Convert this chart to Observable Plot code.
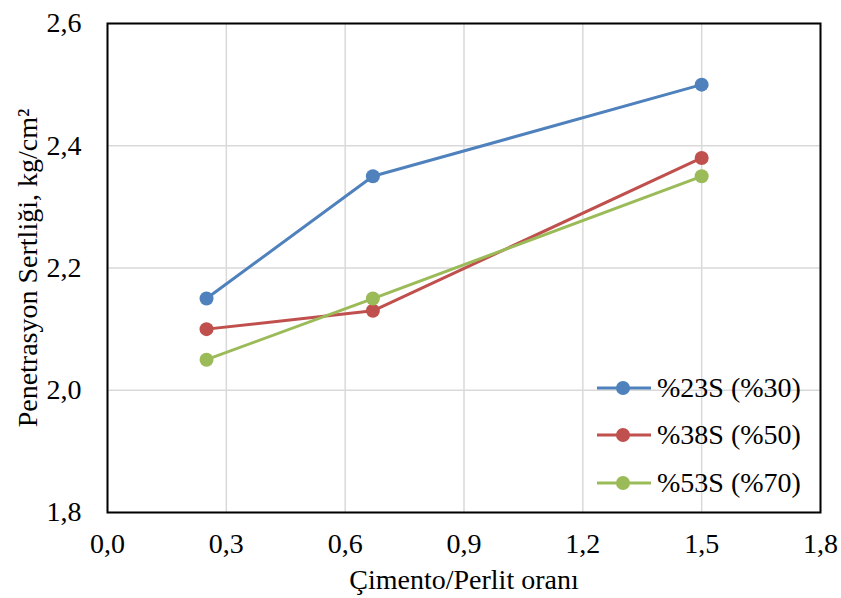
<!DOCTYPE html>
<html><head><meta charset="utf-8">
<script src="https://cdn.jsdelivr.net/npm/d3@7"></script>
<script src="https://cdn.jsdelivr.net/npm/@observablehq/plot@0.6"></script>
<style>
#chart svg text { font-family: "Liberation Serif", "Times New Roman", serif !important; font-size: 28px !important; fill: #000; }
</style>
</head><body style="margin:0;background:#fff;">
<div id="wrap" style="position:relative;width:841px;height:598px;"><div id="chart"></div><div id="legend" style="position:absolute;left:597px;top:364px;"></div></div>
<script>
const xValues = [0.25, 0.67, 1.5];
const seriesNames = ["%23S (%30)", "%38S (%50)", "%53S (%70)"];
const seriesColors = ["#4F81BD", "#C0504D", "#9BBB59"];
const s23 = [2.15, 2.35, 2.50];
const s38 = [2.10, 2.13, 2.38];
const s53 = [2.05, 2.15, 2.35];
const xTicks = [0, 0.3, 0.6, 0.9, 1.2, 1.5, 1.8];
const yTicks = [1.8, 2.0, 2.2, 2.4, 2.6];
const xLabel = "Çimento/Perlit oranı";
const yLabel = "Penetrasyon Sertliği, kg/cm²";

const FONT = "Liberation Serif";
const FS = 28;
const allSeries = [s23, s38, s53];
const data = [];
allSeries.forEach((vals, i) => vals.forEach((v, j) => data.push({x: xValues[j], y: v, s: seriesNames[i]})));
const fmt = d => d.toFixed(1).replace(".", ",");

const chart = Plot.plot({
  width: 841, height: 598,
  marginLeft: 107, marginRight: 21, marginTop: 23, marginBottom: 86,
  style: {fontFamily: FONT, color: "#000", background: "#fff"},
  x: {domain: [0, 1.8]},
  y: {domain: [1.8, 2.6]},
  color: {domain: seriesNames, range: seriesColors},
  marks: [
    Plot.gridX(xTicks, {stroke: "#d9d9d9", strokeOpacity: 1, strokeWidth: 1.5}),
    Plot.gridY(yTicks, {stroke: "#d9d9d9", strokeOpacity: 1, strokeWidth: 1.5}),
    Plot.axisX(xTicks, {tickFormat: fmt, tickSize: 0, tickPadding: 21, fontSize: FS, fontFamily: FONT, label: null}),
    Plot.axisY(yTicks, {tickFormat: fmt, tickSize: 0, tickPadding: 26, fontSize: FS, fontFamily: FONT, label: null}),
    Plot.text([xLabel], {text: d => d, frameAnchor: "bottom", textAnchor: "middle", lineAnchor: "middle", dy: 68, dx: 0, fontSize: FS, fontFamily: FONT, fill: "#000"}),
    Plot.text([yLabel], {text: d => d, frameAnchor: "left", textAnchor: "middle", lineAnchor: "middle", rotate: -90, dx: -79, dy: 0, fontSize: FS, fontFamily: FONT, fill: "#000"}),
    Plot.frame({stroke: "#000", strokeWidth: 2}),
    Plot.line(data, {x: "x", y: "y", z: "s", stroke: "s", strokeWidth: 3}),
    Plot.dot(data, {x: "x", y: "y", fill: "s", r: 7})
  ]
});
document.getElementById("chart").appendChild(chart);

const lg = document.getElementById("legend");
seriesNames.forEach((n, i) => {
  const row = document.createElement("div");
  row.style.cssText = "display:flex;align-items:center;height:47.5px;";
  row.innerHTML = `<svg width="54" height="16" style="margin-right:6px"><line x1="0" x2="54" y1="8" y2="8" stroke="${seriesColors[i]}" stroke-width="3"/><circle cx="26" cy="8" r="7" fill="${seriesColors[i]}"/></svg><span style="font-family:'${FONT}','Times New Roman',serif;font-size:${FS}px;line-height:1;color:#000">${n}</span>`;
  lg.appendChild(row);
});
</script>
</body></html>
